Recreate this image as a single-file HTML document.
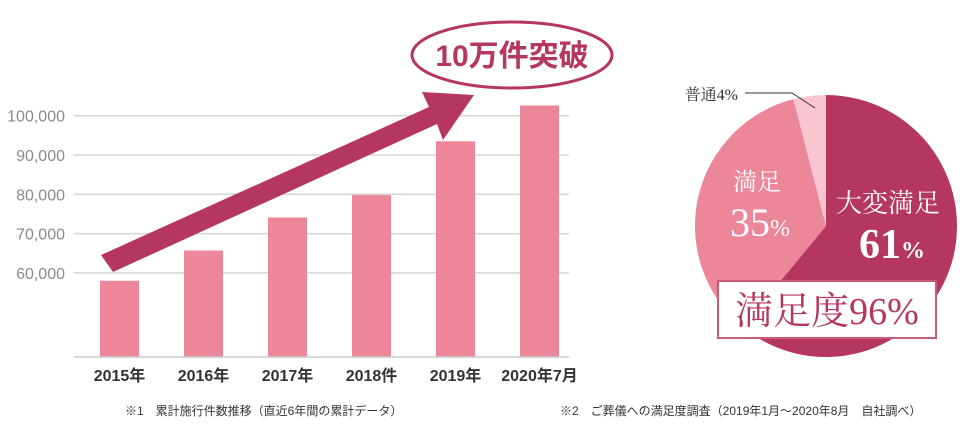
<!DOCTYPE html>
<html><head><meta charset="utf-8">
<style>
body{margin:0;background:#fff;width:960px;height:448px;overflow:hidden}
svg{display:block}
.sans{font-family:"Liberation Sans","Noto Sans CJK JP",sans-serif}
.serif{font-family:"Liberation Serif","Noto Serif CJK SC",serif}
</style></head>
<body>
<svg id="chart" width="960" height="448">
<g id="bars"></g>
<g id="pie"></g>
<text x="125" y="415" font-size="12" fill="#333" class="sans">※1　累計施行件数推移（直近6年間の累計データ）</text>
<text x="560" y="415" font-size="12" fill="#333" class="sans">※2　ご葬儀への満足度調査（2019年1月～2020年8月　自社調べ）</text>
</svg>
<script>
const categories=["2015年","2016年","2017年","2018件","2019年","2020年7月"];
const values=[58000,65700,74100,79800,93500,102600];
const ticks=[60000,70000,80000,90000,100000];
const tickLabels=["60,000","70,000","80,000","90,000","100,000"];
const pieLabels=["大変満足","満足","普通"];
const pieValues=[61,35,4];
const pieColors=["#b5365f","#ec8699","#f9c5d0"];

const NS="http://www.w3.org/2000/svg";
function mk(parent,tag,attrs,text){const e=document.createElementNS(NS,tag);for(const k in attrs)e.setAttribute(k,attrs[k]);if(text!=null)e.textContent=text;parent.appendChild(e);return e;}
const y=v=>357-(v-38600)*(39.3/10000);
const x0=100,step=84,bw=39;
const bx=i=>x0+i*step;
const gb=document.getElementById('bars');
ticks.forEach((t,i)=>{
  const l=mk(gb,'line',{x1:74,x2:569,y1:y(t),y2:y(t),stroke:'#d6d6d6','stroke-width':1.5});
  
  
  const tx=mk(gb,'text',{x:65,y:y(t)+6,'text-anchor':'end','font-size':16,fill:'#8a8a8a',class:'sans'},tickLabels[i]);
  
  
});
values.forEach((v,i)=>{
  const r=mk(gb,'rect',{x:bx(i),y:y(v),width:bw,height:357-y(v),fill:'#ec8699'});
  
  
  const t=mk(gb,'text',{x:bx(i)+bw/2,y:381,'text-anchor':'middle','font-size':16,'font-weight':'bold',fill:'#333',class:'sans'},categories[i]);
  
  
});
const ax=mk(gb,'line',{x1:74,x2:569,y1:357,y2:357,stroke:'#ccc','stroke-width':1.5});


// arrow
const ar=mk(gb,'polygon',{points:'101,255 429,107 422,92 474,95 443,140 437,124 113,272',fill:'#b5365f'});


const el=mk(gb,'ellipse',{cx:512,cy:55,rx:100,ry:33,fill:'#fff',stroke:'#b5365f','stroke-width':3});


const ct=mk(gb,'text',{x:512,y:66,'text-anchor':'middle','font-size':30,'font-weight':'bold',fill:'#b5365f',class:'sans'},'10万件突破');



// pie
const gp=document.getElementById('pie');
const cx=826,cy=226,R=131;
const total=pieValues.reduce((a,b)=>a+b,0);
let a0=0;
pieValues.forEach((v,i)=>{
  const a1=a0+v/total*2*Math.PI;
  const p=(a)=>[cx+R*Math.sin(a),cy-R*Math.cos(a)];
  const [sx,sy]=p(a0),[ex,ey]=p(a1);
  const s=mk(gp,'path',{d:`M${cx},${cy}L${sx},${sy}A${R},${R} 0 ${a1-a0>Math.PI?1:0} 1 ${ex},${ey}Z`,fill:pieColors[i]});
  
  
  a0=a1;
});
function tt(x,y,size,fill,txt,name,w){const t=mk(gp,'text',{x:x,y:y,'text-anchor':'middle','font-size':size,fill:fill,class:'serif','font-weight':w||'normal'},txt);return t;}
tt(888,212,26,'#fff',pieLabels[0],'slice-label-very-satisfied');
const t1=tt(892,258,42,'#fff',pieValues[0],'slice-value-very-satisfied','bold');
mk(t1,'tspan',{'font-size':24},'%');
tt(757,190,24,'#fff',pieLabels[1],'slice-label-satisfied');
const t2=tt(760,236,40,'#fff',pieValues[1],'slice-value-satisfied');
mk(t2,'tspan',{'font-size':24},'%');
const ln=mk(gp,'polyline',{points:'745,93 792,93 815,108',fill:'none',stroke:'#333','stroke-width':1});


const t3=mk(gp,'text',{x:738,y:100,'text-anchor':'end','font-size':16,fill:'#333',class:'serif'},pieLabels[2]+pieValues[2]+'%');


const bx2=mk(gp,'rect',{x:718,y:281,width:218,height:57,fill:'#fff',stroke:'#c95a78','stroke-width':2});


tt(827,324,38,'#b5365f','満足度96%','satisfaction-total');
</script>
</body></html>
